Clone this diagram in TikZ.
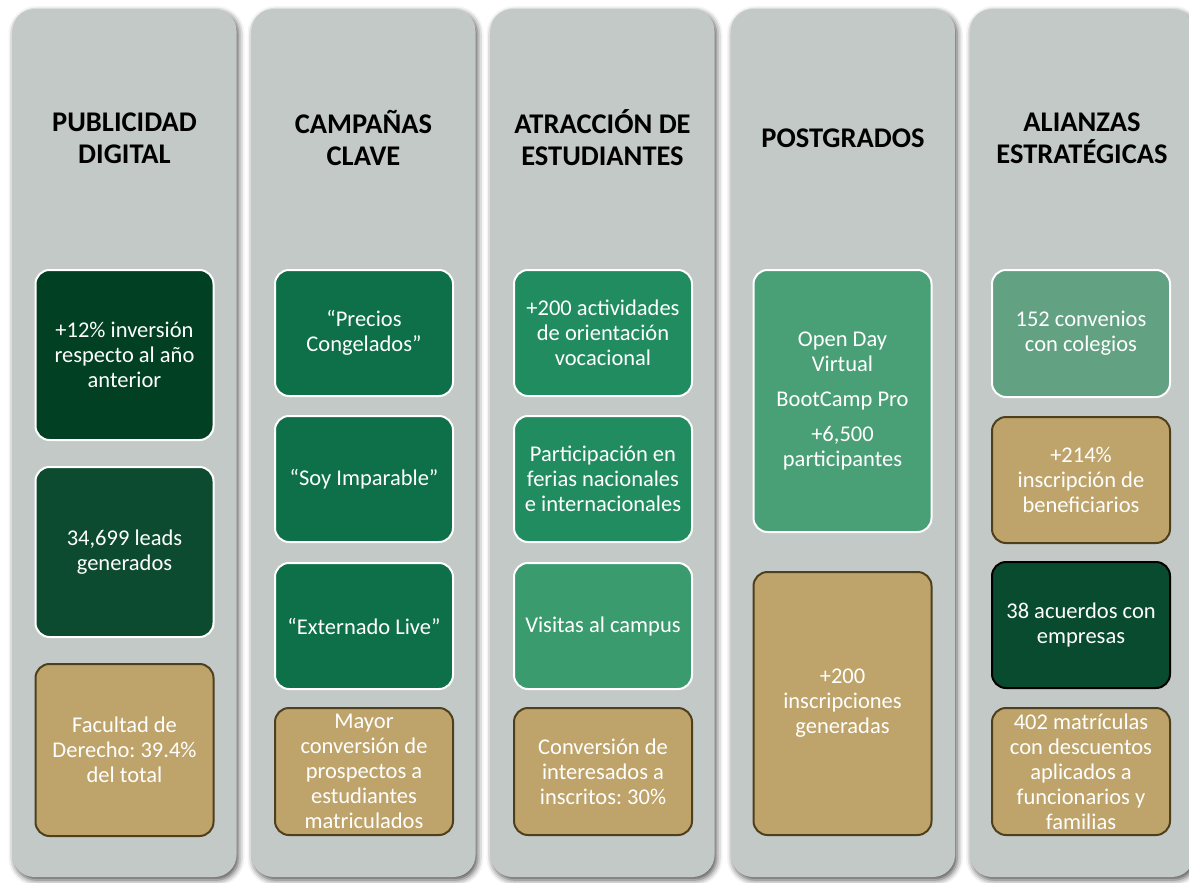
\documentclass[tikz,border=0pt]{standalone}
\usepackage{fontspec}
\setmainfont{Carlito}
\frenchspacing
\usetikzlibrary{positioning}
\usetikzlibrary{shadows.blur}
\definecolor{colgray}{RGB}{195,201,198}
\definecolor{greenA}{RGB}{1,64,34}
\definecolor{greenB}{RGB}{12,75,48}
\definecolor{greenC}{RGB}{14,112,72}
\definecolor{greenD}{RGB}{33,140,95}
\definecolor{greenE}{RGB}{58,156,110}
\definecolor{greenF}{RGB}{74,160,118}
\definecolor{greenG}{RGB}{98,161,130}
\definecolor{greenH}{RGB}{9,75,46}
\definecolor{tanfill}{RGB}{190,164,106}
\definecolor{tanline}{RGB}{78,64,30}
\tikzset{
    x=1pt, y=-1pt, % pixel like units, y pointing down
    colbox/.style={rectangle, rounded corners=22pt, fill=colgray,
        minimum width=224pt, minimum height=868pt, inner sep=0pt,
        blur shadow={shadow xshift=2pt, shadow yshift=-3pt, shadow blur radius=6pt, shadow opacity=70}},
    heading/.style={font=\bfseries\fontsize{28.5}{32}\selectfont, align=center, text=black},
    infobox/.style={rectangle, rounded corners=14pt, minimum width=178pt,
        align=center, text=white, inner sep=0pt, line width=2pt,
        font=\fontsize{22.5}{25}\selectfont},
    greenbox/.style={infobox, draw=white, fill=#1}, % green cards with white rim
    tanbox/.style={infobox, draw=tanline, fill=tanfill}, % results cards
}

\begin{document}
\begin{tikzpicture}
  \useasboundingbox (0,0) rectangle (1189,883);

  % columns
  \node[colbox] (c1) at (124.5,443) {};
  \node[colbox] (c2) at (363.5,443) {};
  \node[colbox] (c3) at (602.5,443) {};
  \node[colbox] (c4) at (843,443) {};
  \node[colbox] (c5) at (1082,443) {};

  % headings
  \node[heading] (h1) at (124.5,138) {PUBLICIDAD\\DIGITAL};
  \node[heading] (h2) at (363.5,138) {CAMPAÑAS\\CLAVE};
  \node[heading] (h3) at (602.5,138) {ATRACCIÓN DE\\ESTUDIANTES};
  \node[heading] (h4) at (843,138) {POSTGRADOS};
  \node[heading] (h5) at (1082,138) {ALIANZAS\\ESTRATÉGICAS};

  % publicidad digital
  \node[greenbox=greenA, minimum height=170pt] (pd1) at (124.5,355) {+12\% inversión\\respecto al año\\anterior};
  \node[greenbox=greenB, minimum height=170pt] (pd2) at (124.5,552) {34,699 leads\\generados};
  \node[tanbox, minimum height=172pt] (pd3) at (124.5,750) {Facultad de\\Derecho: 39.4\%\\del total};

  % campanas clave
  \node[greenbox=greenC, minimum height=126pt] (cc1) at (364,333) {“Precios\\Congelados”};
  \node[greenbox=greenC, minimum height=126pt] (cc2) at (364,479) {“Soy Imparable”};
  \node[greenbox=greenC, minimum height=126pt] (cc3) at (364,626) {“Externado Live”};
  \node[tanbox, minimum height=127pt] (cc4) at (364,771.5) {Mayor\\conversión de\\prospectos a\\estudiantes\\matriculados};

  % atraccion de estudiantes
  \node[greenbox=greenD, minimum height=126pt] (ae1) at (603,333) {+200 actividades\\de orientación\\vocacional};
  \node[greenbox=greenD, minimum height=126pt] (ae2) at (603,479) {Participación en\\ferias nacionales\\e internacionales};
  \node[greenbox=greenE, minimum height=126pt] (ae3) at (603,626) {Visitas al campus};
  \node[tanbox, minimum height=127pt] (ae4) at (603,771.5) {Conversión de\\interesados a\\inscritos: 30\%};

  % postgrados
  \node[greenbox=greenF, minimum height=262pt] (pg1) at (842.5,401) {Open Day\\Virtual\\[10pt]BootCamp Pro\\[10pt]+6,500\\participantes};
  \node[tanbox, minimum height=263pt] (pg2) at (842.5,703.5) {+200\\inscripciones\\generadas};

  % alianzas estrategicas
  \node[greenbox=greenG, minimum height=127pt] (al1) at (1081,333.5) {152 convenios\\con colegios};
  \node[tanbox, minimum height=126pt] (al2) at (1081,480) {+214\%\\inscripción de\\beneficiarios};
  \node[greenbox=greenH, draw=black, minimum height=126pt] (al3) at (1081,625) {38 acuerdos con\\empresas};
  \node[tanbox, minimum height=127pt] (al4) at (1081,771.5) {402 matrículas\\con descuentos\\aplicados a\\funcionarios y\\familias};
\end{tikzpicture}
\end{document}
